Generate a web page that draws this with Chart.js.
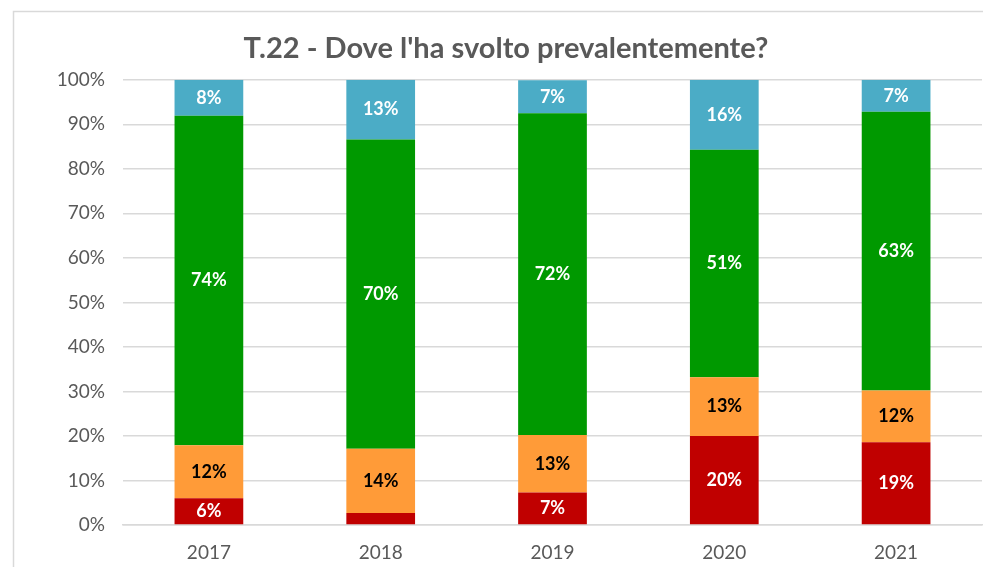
<!DOCTYPE html>
<html>
<head>
<meta charset="utf-8">
<script src="https://cdn.jsdelivr.net/npm/chart.js@4"></script>
<style>
  html, body { margin: 0; padding: 0; background: #fff; }
  #wrap { width: 983px; height: 567px; position: relative; }
</style>
</head>
<body>
<div id="wrap"><canvas id="placeChart"></canvas></div>
<script>
const years = ['2017', '2018', '2019', '2020', '2021'];
const redVals = [6.0, 2.7, 7.3, 20.0, 18.6];
const orangeVals = [11.9, 14.4, 12.9, 13.2, 11.6];
const greenVals = [74.0, 69.5, 72.3, 51.1, 62.6];
const blueVals = [8.1, 13.4, 7.4, 15.7, 7.2];
const yTicks = [0, 10, 20, 30, 40, 50, 60, 70, 80, 90, 100];

const FONT = 'Lato, Calibri, sans-serif';

//draw the value labels in the middle of each segment
const barLabels = {
    id: 'barLabels',
    afterDatasetsDraw(chart) {
        const c = chart.ctx;
        c.save();
        c.font = 'bold 18px ' + FONT;
        c.textAlign = 'center';
        c.textBaseline = 'middle';
        chart.data.datasets.forEach((ds, i) => {
            chart.getDatasetMeta(i).data.forEach((bar, j) => {
                const v = ds.data[j];
                if (v < 4) return;
                c.fillStyle = ds.labelColor;
                c.fillText(Math.round(v) + '%', bar.x, (bar.y + bar.base) / 2);
            });
        });
        c.restore();
    }
};

//light grey frame around the chart, like the excel one
const frame = {
    id: 'frame',
    beforeDraw(chart) {
        const c = chart.ctx;
        c.save();
        c.strokeStyle = '#d9d9d9';
        c.lineWidth = 1.5;
        c.strokeRect(13.5, 11.5, 1000, 600);
        c.restore();
    }
};

const ctx = document.getElementById('placeChart').getContext('2d');

new Chart(ctx, {
    type: 'bar',
    data: {
        labels: years,
        datasets: [
            { label: 'red', data: redVals, backgroundColor: '#c00000', labelColor: '#ffffff' },
            { label: 'orange', data: orangeVals, backgroundColor: '#ff9b38', labelColor: '#000000' },
            { label: 'green', data: greenVals, backgroundColor: '#009900', labelColor: '#ffffff' },
            { label: 'blue', data: blueVals, backgroundColor: '#4bacc6', labelColor: '#ffffff' }
        ]
    },
    options: {
        responsive: true,
        maintainAspectRatio: false,
        animation: false,
        layout: { padding: { left: 30, right: 1, top: 0, bottom: 0 } },
        datasets: {
            bar: { categoryPercentage: 1, barPercentage: 0.4 }
        },
        scales: {
            x: {
                stacked: true,
                grid: { display: false },
                border: { display: true, color: '#d9d9d9', width: 1.5 },
                ticks: { color: '#595959', font: { family: FONT, size: 19 }, padding: 8 },
                afterFit(axis) { axis.height = 42; }
            },
            y: {
                stacked: true,
                min: 0,
                max: 100,
                afterBuildTicks(axis) { axis.ticks = yTicks.map(v => ({ value: v })); },
                grid: { color: '#d9d9d9', lineWidth: 1.5, drawTicks: false },
                border: { display: false },
                ticks: {
                    color: '#595959',
                    font: { family: FONT, size: 19 },
                    padding: 18,
                    callback: v => v + '%'
                },
                afterFit(axis) { axis.width = 93; }
            }
        },
        plugins: {
            legend: { display: false },
            tooltip: { enabled: false },
            title: {
                display: true,
                text: "T.22 - Dove l'ha svolto prevalentemente?",
                color: '#595959',
                font: { family: FONT, size: 29, weight: 'bold', lineHeight: 1.2 },
                padding: { top: 31, bottom: 14 }
            }
        }
    },
    plugins: [frame, barLabels]
});
</script>
</body>
</html>
